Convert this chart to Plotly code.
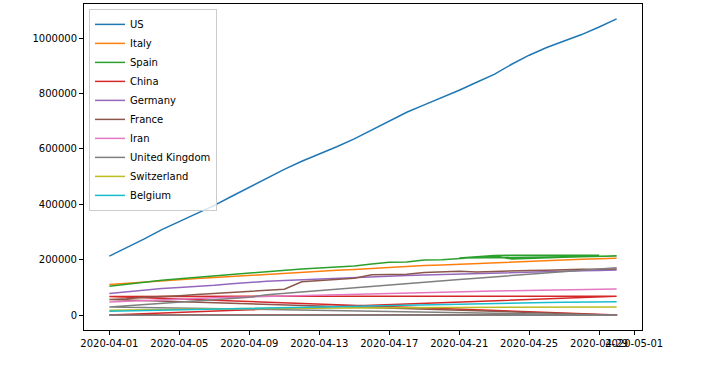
import pandas as pd
import plotly.graph_objects as go

# ---------------- data (confirmed cases, April 2020) ----------------
dates = [d.strftime("%Y-%m-%d") for d in pd.date_range("2020-04-01", "2020-04-30")]

us = [213372, 243762, 275586, 308853, 337072, 366667, 396223, 429052, 461437, 496535,
      526396, 555313, 580619, 607670, 636350, 667801, 699706, 732197, 759086, 784326,
      811865, 840351, 869170, 905358, 938154, 965785, 988197, 1012582, 1039909, 1069424]
italy = [110574, 115242, 119827, 124632, 128948, 132547, 135586, 139422, 143626, 147577,
         152271, 156363, 159516, 162488, 165155, 168941, 172434, 175925, 178972, 181228,
         183957, 187327, 189973, 192994, 195351, 197675, 199414, 201505, 203591, 205463]
spain = [104118, 112065, 119199, 126168, 131646, 136675, 141942, 148220, 153222, 158273,
         163027, 166831, 170099, 172541, 177644, 184948, 190839, 191726, 198674, 200210,
         204178, 208389, 213024, 202990, 205905, 207634, 209465, 210773, 212917, 213435]
# second (duplicate) Spain block of reports, 2020-04-21 .. 2020-04-29
spain_dup_dates = dates[20:29]
spain_dup = [206000, 211000, 215500, 216500, 217000, 217000, 217000, 216500, 216000]
germany = [77872, 84794, 91159, 96092, 100123, 103374, 107663, 113296, 118181, 122171,
           124908, 127854, 130072, 131359, 134753, 137698, 141397, 143342, 145184, 147065,
           148291, 150648, 153129, 154999, 156513, 157770, 158758, 159912, 161539, 163009]
iran = [47593, 50468, 53183, 55743, 58226, 60500, 62589, 64586, 66220, 68192,
        70029, 71686, 73303, 74877, 76389, 77995, 79494, 80868, 82211, 83505,
        84802, 85996, 87026, 88194, 89328, 90481, 91472, 92584, 93657, 94640]
switzerland = [17768, 18827, 19606, 20505, 21100, 21657, 22253, 23280, 24051, 24551,
               25107, 25415, 25688, 25936, 26336, 26732, 27078, 27404, 27740, 27944,
               28063, 28268, 28496, 28677, 28894, 29061, 29164, 29264, 29407, 29586]
belgium = [13964, 15348, 16770, 18431, 19691, 20814, 22194, 23403, 24983, 26667,
           28018, 29647, 30589, 31119, 33573, 34809, 36138, 37183, 38496, 39983,
           40956, 41889, 42797, 44293, 45325, 46134, 46687, 47334, 47859, 48519]

# China, by province (start / end of April), Hubei daily
china_provinces = ["Anhui", "Beijing", "Chongqing", "Fujian", "Gansu", "Guangdong", "Guangxi",
                   "Guizhou", "Hainan", "Hebei", "Heilongjiang", "Henan", "Hong Kong", "Hubei",
                   "Hunan", "Inner Mongolia", "Jiangsu", "Jiangxi", "Jilin", "Liaoning", "Macau",
                   "Ningxia", "Qinghai", "Shaanxi", "Shandong", "Shanghai", "Shanxi", "Sichuan",
                   "Tianjin", "Tibet", "Xinjiang", "Yunnan", "Zhejiang"]
china_start = [990, 580, 579, 345, 138, 1475, 254, 146, 168, 319, 484, 1276, 765, 67802,
               1018, 107, 645, 937, 98, 134, 41, 75, 18, 255, 773, 499, 136, 550, 180, 1, 76, 180, 1257]
china_end = [991, 593, 579, 356, 139, 1588, 254, 147, 168, 328, 939, 1276, 1038, 68128,
             1019, 201, 653, 937, 103, 146, 45, 75, 18, 308, 787, 648, 197, 561, 190, 1, 76, 185, 1268]
hubei = [67802] * 16 + [68128] * 14

# France: overseas territories (start / end), then mainland daily
france_territories = ["French Guiana", "French Polynesia", "Guadeloupe", "Mayotte", "New Caledonia",
                      "Reunion", "Saint Barthelemy", "St Martin", "Martinique", "Saint Pierre and Miquelon"]
france_terr_start = [43, 37, 114, 94, 15, 247, 6, 21, 135, 0]
france_terr_end = [128, 58, 152, 460, 18, 418, 6, 38, 175, 1]
france = [56989, 59105, 64338, 68605, 70478, 74390, 78167, 82048, 86334, 90276,
          93790, 120633, 124298, 130253, 133470, 146075, 148084, 148086, 153878, 155393,
          158168, 155980, 158303, 159952, 161644, 162220, 165093, 165764, 165764, 166420]

# United Kingdom: territories (start / end), then mainland daily
uk_territories = ["Bermuda", "Cayman Islands", "Channel Islands", "Gibraltar", "Isle of Man",
                  "Montserrat", "Anguilla", "British Virgin Islands", "Turks and Caicos Islands",
                  "Falkland Islands (Malvinas)"]
uk_terr_start = [35, 28, 262, 98, 60, 6, 3, 3, 6, 1]
uk_terr_end = [114, 70, 539, 141, 308, 11, 3, 6, 12, 13]
uk = [29474, 33718, 38168, 41903, 47806, 51608, 55242, 60733, 65077, 73758,
      78991, 84279, 88621, 93873, 98476, 103093, 108692, 114217, 120067, 124743,
      129044, 133495, 138078, 143464, 148377, 152840, 157149, 161145, 165221, 171253]

colors = ["#1f77b4", "#ff7f0e", "#2ca02c", "#d62728", "#9467bd",
          "#8c564b", "#e377c2", "#7f7f7f", "#bcbd22", "#17becf"]
labels = ["US", "Italy", "Spain", "China", "Germany", "France", "Iran",
          "United Kingdom", "Switzerland", "Belgium"]


def province_series(names, starts, ends, daily_name=None, daily=None):
    xs, ys = [], []
    for n, s, e in zip(names, starts, ends):
        if n == daily_name:
            xs += dates
            ys += daily
        else:
            xs += [dates[0], dates[-1]]
            ys += [s, e]
    return xs, ys


cx, cy = province_series(china_provinces, china_start, china_end, "Hubei", hubei)
fx, fy = province_series(france_territories, france_terr_start, france_terr_end)
fx += dates
fy += france
ux, uy = province_series(uk_territories, uk_terr_start, uk_terr_end)
ux += dates
uy += uk
sx = dates + spain_dup_dates
sy = spain + spain_dup

series = [
    (dates, us), (dates, italy), (sx, sy), (cx, cy), (dates, germany),
    (fx, fy), (dates, iran), (ux, uy), (dates, switzerland), (dates, belgium),
]

fig = go.Figure()
allv = []
for (xs, ys), name, col in zip(series, labels, colors):
    allv += ys
    fig.add_trace(go.Scatter(x=xs, y=ys, mode="lines", name=name,
                             line=dict(color=col, width=1.5)))

ymin, ymax = min(allv), max(allv)
ypad = 0.05 * (ymax - ymin)
d0, d1 = pd.Timestamp(dates[0]), pd.Timestamp(dates[-1])
xpad = (d1 - d0) * 0.05

xtick_vals = ["2020-04-01", "2020-04-05", "2020-04-09", "2020-04-13", "2020-04-17",
              "2020-04-21", "2020-04-25", "2020-04-29", "2020-05-01"]
ytick_vals = [0, 200000, 400000, 600000, 800000, 1000000]

font = dict(family="DejaVu Sans", size=10, color="black")
fig.update_layout(
    width=702, height=366,
    margin=dict(l=84, r=60, t=4, b=36),
    paper_bgcolor="white", plot_bgcolor="white",
    font=font,
    showlegend=True,
    legend=dict(x=0.009, y=0.985, xanchor="left", yanchor="top",
                bgcolor="rgba(255,255,255,0.8)", bordercolor="#cccccc", borderwidth=1,
                font=font, tracegroupgap=0),
    xaxis=dict(type="date", range=[d0 - xpad, d1 + xpad],
               tickvals=xtick_vals, ticktext=xtick_vals, tickangle=0, automargin=False,
               showgrid=False, zeroline=False, showline=True, mirror=True,
               linecolor="black", linewidth=1, ticks="outside", ticklen=4,
               tickcolor="black", tickwidth=1, tickfont=font),
    yaxis=dict(range=[ymin - ypad, ymax + ypad], automargin=False,
               tickvals=ytick_vals, ticktext=[str(v) for v in ytick_vals],
               showgrid=False, zeroline=False, showline=True, mirror=True,
               linecolor="black", linewidth=1, ticks="outside", ticklen=4,
               tickcolor="black", tickwidth=1, tickfont=font),
)

fig.write_html("out.html", config={"displayModeBar": False},
               post_script="document.body.style.margin='0';")
